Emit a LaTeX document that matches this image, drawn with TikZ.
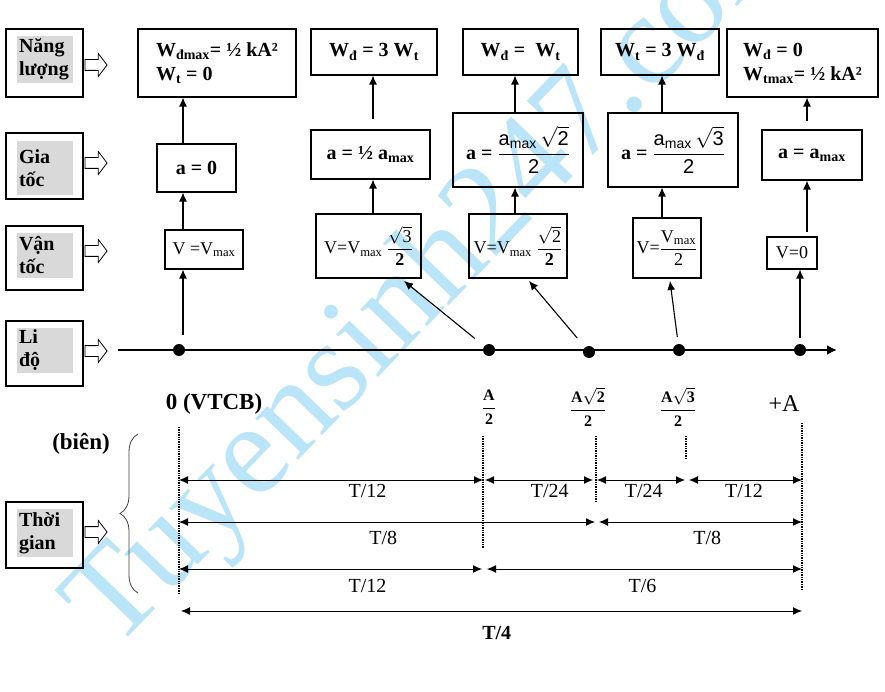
\documentclass[tikz,border=0pt]{standalone}
\usepackage{amsmath}
\usepackage{fontspec}
\setmainfont{Liberation Serif}
\setsansfont{Liberation Sans}
\usetikzlibrary{arrows.meta, shapes.arrows, decorations.pathreplacing}
\definecolor{wmblue}{RGB}{186,228,247}
\definecolor{lblgray}{RGB}{217,217,217}

\begin{document}
\begin{tikzpicture}[x=1pt, y=-1pt,
    ebox/.style={draw, line width=1.1pt, inner sep=0pt, align=center, font=\bfseries\fontsize{20}{24}\selectfont},
    vbox/.style={draw, line width=1.1pt, inner sep=0pt, align=center, font=\fontsize{18}{21}\selectfont},
    sidebox/.style={draw, line width=1.1pt, inner sep=0pt, minimum width=77pt},
    sidetext/.style={fill=lblgray, inner sep=2pt, text width=52pt, align=left, font=\bfseries\fontsize{20}{23}\selectfont},
    hollow/.style={single arrow, draw, line width=0.8pt, fill=white, inner xsep=0pt, inner ysep=5pt, minimum height=22pt, single arrow head extend=6pt, single arrow tip angle=105},
    bead/.style={circle, fill, inner sep=0pt, minimum size=12pt},
    uparr/.style={-{Latex[length=9pt, width=8pt]}, line width=1.1pt},
    dimarr/.style={{Latex[length=9pt, width=8pt]}-{Latex[length=9pt, width=8pt]}, line width=1pt},
    guide/.style={densely dotted, line width=1.4pt},
    lab/.style={inner sep=0pt, font=\fontsize{20}{24}\selectfont},
    xfrac/.style={inner sep=0pt, font=\bfseries\fontsize{16}{19}\selectfont},
    wm/.style={text=wmblue, inner sep=0pt, anchor=base west, rotate=46, font=\fontsize{130}{130}\selectfont}]
    \useasboundingbox (0,0) rectangle (885,692);
    \node[wm] (mark) at (114,652) {Tuyensinh247.com};

    \node[sidebox, minimum height=68pt] (nlbox) at (44.5,63) {};
    \node[sidetext, minimum height=47pt] (nl) at (45,59.5) {Năng\\lượng};
    \node[hollow] (nlarr) at (94,65) {};
    \node[sidebox, minimum height=66pt] (gtbox) at (44.5,166) {};
    \node[sidetext, minimum height=54pt] (gt) at (45,168) {Gia\\tốc};
    \node[hollow] (gtarr) at (94,163) {};
    \node[sidebox, minimum height=64pt] (vtbox) at (44.5,258) {};
    \node[sidetext, minimum height=45pt] (vt) at (45,255.5) {Vận\\tốc};
    \node[hollow] (vtarr) at (94,251) {};
    \node[sidebox, minimum height=65pt] (ldbox) at (44.5,353.5) {};
    \node[sidetext, minimum height=45pt] (ld) at (45,350.5) {Li\\độ};
    \node[hollow] (ldarr) at (94,351) {};
    \node[sidebox, minimum height=66pt] (tgbox) at (44.5,535) {};
    \node[sidetext, minimum height=48pt] (tg) at (45,533) {Thời\\gian};
    \node[hollow] (tgarr) at (94,532) {};

    \node[ebox, align=left, minimum width=158pt, minimum height=68pt] (e1) at (217,63) {W\textsubscript{đmax}= ½ kA²\\W\textsubscript{t} = 0};
    \node[ebox, minimum width=126pt, minimum height=46pt] (e2) at (374,52) {W\textsubscript{đ} = 3 W\textsubscript{t}};
    \node[ebox, minimum width=115pt, minimum height=46pt] (e3) at (520.5,52) {W\textsubscript{đ} =\enspace W\textsubscript{t}};
    \node[ebox, minimum width=118pt, minimum height=46pt] (e4) at (660,52) {W\textsubscript{t} = 3 W\textsubscript{đ}};
    \node[ebox, align=left, minimum width=151pt, minimum height=68pt] (e5) at (802.5,63) {W\textsubscript{đ} = 0\\W\textsubscript{tmax}= ½ kA²};

    \node[ebox, minimum width=79pt, minimum height=48pt] (a1) at (196.5,168) {a = 0};
    \node[ebox, minimum width=119pt, minimum height=49pt] (a2) at (370.5,154.5) {a = ½ a\textsubscript{max}};
    \node[ebox, minimum width=130pt, minimum height=74pt] (a3) at (518,150) {a = $\dfrac{\mbox{\sffamily\mdseries a\textsubscript{max}}\,\sqrt{\mbox{\sffamily\mdseries 2}}}{\mbox{\sffamily\mdseries 2}}$};
    \node[ebox, minimum width=130pt, minimum height=74pt] (a4) at (673,150) {a = $\dfrac{\mbox{\sffamily\mdseries a\textsubscript{max}}\,\sqrt{\mbox{\sffamily\mdseries 3}}}{\mbox{\sffamily\mdseries 2}}$};
    \node[ebox, minimum width=100pt, minimum height=50pt] (a5) at (812,155) {a = a\textsubscript{max}};

    \node[vbox, minimum width=78pt, minimum height=39pt] (v1) at (204,249.5) {V =V\textsubscript{max}};
    \node[vbox, minimum width=105pt, minimum height=64pt] (v2) at (368.5,246) {V=V\textsubscript{max} $\dfrac{\sqrt{\mbox{3}}}{\mbox{\bfseries 2}}$};
    \node[vbox, minimum width=98pt, minimum height=64pt] (v3) at (518,246) {V=V\textsubscript{max} $\dfrac{\sqrt{\mbox{2}}}{\mbox{\bfseries 2}}$};
    \node[vbox, minimum width=68pt, minimum height=60pt] (v4) at (667,248) {V=$\dfrac{\mbox{V\textsubscript{max}}}{\mbox{2}}$};
    \node[vbox, minimum width=50pt, minimum height=32pt] (v5) at (792,253) {V=0};

    \coordinate (c1) at (183,0); \coordinate (c2) at (373,0); \coordinate (c3) at (515,0);
    \coordinate (c4) at (662,0); \coordinate (c5) at (807,0);
    \draw[uparr] (v1.north -| c1) -- (a1.south -| c1);
    \draw[uparr] (a1.north -| c1) -- (e1.south -| c1);
    \draw[uparr] (v2.north -| c2) -- (a2.south -| c2);
    \draw[uparr, shorten <=10pt] (a2.north -| c2) -- (e2.south -| c2);
    \draw[uparr] (v3.north -| c3) -- (a3.south -| c3);
    \draw[uparr] (a3.north -| c3) -- (e3.south -| c3);
    \draw[uparr] (v4.north -| c4) -- (a4.south -| c4);
    \draw[uparr] (a4.north -| c4) -- (e4.south -| c4);
    \draw[uparr, shorten <=4pt] (v5.north -| c5) -- (a5.south -| c5);
    \draw[uparr, shorten <=8pt] (a5.north -| c5) -- (e5.south -| c5);

    \coordinate (ax0) at (118,350); \coordinate (ax1) at (837,350);
    \draw[line width=2.5pt, -{Latex[length=10pt, width=10pt]}] (ax0) -- (ax1);
    \node[bead] (d1) at (179,350) {};
    \node[bead] (d2) at (489,350) {};
    \node[bead] (d3) at (589,352) {};
    \node[bead] (d4) at (679,350) {};
    \node[bead] (d5) at (800,350) {};
    \coordinate (t2) at (404,281); \coordinate (t3) at (529,281); \coordinate (t4) at (670,281);
    \draw[uparr, shorten <=15pt] (d1 -| c1) -- (v1.south -| c1);
    \draw[uparr, shorten <=12pt] (d2) -- (t2);
    \draw[uparr, shorten <=12pt] (d3) -- (t3);
    \draw[uparr, shorten <=7pt] (d4) -- (t4);
    \draw[uparr, shorten <=6pt] (d5) -- (v5.south -| d5);

    \node[font=\bfseries\fontsize{23}{26}\selectfont] (vtcb) at (214,404) {0 (VTCB)};
    \node[font=\bfseries\fontsize{23}{26}\selectfont] (bien) at (81,444) {(biên)};
    \node[xfrac] (xa) at (489,407) {$\dfrac{\mbox{A}}{\mbox{2}}$};
    \node[xfrac] (xb) at (588,407) {$\dfrac{\mbox{A}\sqrt{\mbox{2}}}{\mbox{2}}$};
    \node[xfrac] (xc) at (678,407) {$\dfrac{\mbox{A}\sqrt{\mbox{3}}}{\mbox{2}}$};
    \node[font=\fontsize{24}{28}\selectfont] (xd) at (784,404) {+A};

    \draw[guide] (179,427) -- (179,593);
    \draw[guide] (483,436) -- (483,548);
    \draw[guide] (596,436) -- (596,501);
    \draw[guide] (686,436) -- (686,458);
    \draw[guide] (802,423) -- (802,590);
    \draw[line width=0.8pt, black!75, decorate, decoration={brace, amplitude=18pt}] (138,593) -- (138,434);

    \coordinate (p0) at (179,0); \coordinate (p1) at (483,0); \coordinate (p2) at (596,0);
    \coordinate (p3) at (686,0); \coordinate (p4) at (802,0);
    \coordinate (r1) at (0,480); \coordinate (r2) at (0,522); \coordinate (r3) at (0,569); \coordinate (r4) at (0,611);
    \draw[dimarr] (p0 |- r1) -- (p1 |- r1) node[lab, pos=.62, below=4pt] (l1) {T/12};
    \draw[dimarr, shorten <=2pt, shorten >=3pt] (p1 |- r1) -- (p2 |- r1) node[lab, pos=.59, below=4pt] (l2) {T/24};
    \draw[dimarr, shorten <=1pt, shorten >=1pt] (p2 |- r1) -- (p3 |- r1) node[lab, pos=.53, below=4pt] (l3) {T/24};
    \draw[dimarr, shorten <=3pt] (p3 |- r1) -- (p4 |- r1) node[lab, pos=.5, below=4pt] (l4) {T/12};
    \draw[dimarr, shorten >=1pt] (p0 |- r2) -- (p2 |- r2) node[lab, pos=.49, below=9pt] (l5) {T/8};
    \draw[dimarr, shorten <=3pt] (p2 |- r2) -- (p4 |- r2) node[lab, pos=.54, below=9pt] (l6) {T/8};
    \draw[dimarr, shorten >=1pt] (p0 |- r3) -- (p1 |- r3) node[lab, pos=.62, below=10pt] (l7) {T/12};
    \draw[dimarr, shorten <=4pt] (p1 |- r3) -- (p4 |- r3) node[lab, pos=.5, below=10pt] (l8) {T/6};
    \draw[dimarr, shorten <=2pt] (p0 |- r4) -- (p4 |- r4) node[lab, pos=.51, below=15pt, font=\bfseries\fontsize{20}{24}\selectfont] (l9) {T/4};
\end{tikzpicture}
\end{document}
